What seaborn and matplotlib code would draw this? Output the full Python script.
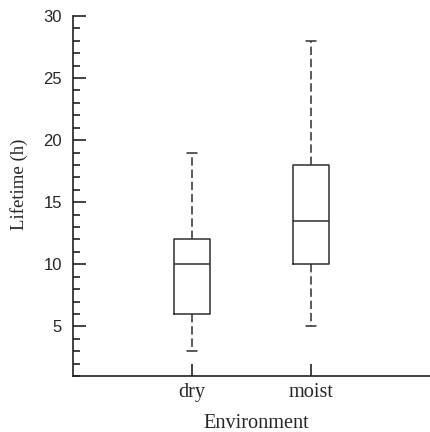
import matplotlib
matplotlib.use("Agg")
import matplotlib.pyplot as plt
import seaborn as sns
import pandas as pd
from matplotlib.ticker import MultipleLocator

# five-number summaries (low whisker, Q1, median, Q3, high whisker)
environments = ["dry", "moist"]
dry_values = [3, 6, 10, 12, 19]
moist_values = [5, 10, 13.5, 18, 28]

df = pd.DataFrame({
    "Environment": ["dry"] * len(dry_values) + ["moist"] * len(moist_values),
    "Lifetime": dry_values + moist_values,
})

sns.set_style("ticks")
plt.rcParams["font.family"] = ["Liberation Serif", "DejaVu Serif"]

fig = plt.figure(figsize=(4.3, 4.32), dpi=100)
ax = fig.add_axes([73 / 430, 1 - 376 / 432, 357 / 430, 360 / 432])

line = "#2e2e2e"
sns.boxplot(
    data=df, x="Environment", y="Lifetime", order=environments,
    width=0.3, fill=False, color=line, linewidth=1.1,
    whis=1.5, showfliers=False, ax=ax,
    whiskerprops={"linestyle": (0, (5.5, 2.5)), "color": line},
    capprops={"color": line},
    medianprops={"color": line},
    boxprops={"color": line},
    capwidths=0.09,
)

ax.set_xlim(-1, 2)
ax.set_ylim(1, 30)
ax.yaxis.set_major_locator(MultipleLocator(5))
ax.yaxis.set_minor_locator(MultipleLocator(1))
ax.set_yticks([5, 10, 15, 20, 25, 30])

for s in ["top", "right"]:
    ax.spines[s].set_visible(False)
for s in ["left", "bottom"]:
    ax.spines[s].set_color("#222222")
    ax.spines[s].set_linewidth(1.2)

ax.tick_params(axis="both", which="major", direction="in", length=9,
               width=1.2, color="#222222")
ax.tick_params(axis="y", which="minor", direction="in", length=5,
               width=1.2, color="#222222")
ax.tick_params(axis="y", which="major", pad=8)
ax.tick_params(axis="x", which="major", pad=5)

for lab in ax.get_yticklabels():
    lab.set_family(["Liberation Sans", "DejaVu Sans"])
    lab.set_fontsize(12)
for lab in ax.get_xticklabels():
    lab.set_fontsize(14.6)

ax.set_xlabel("Environment", fontsize=14.6, labelpad=9)
ax.set_ylabel("Lifetime (h)", fontsize=13.5, labelpad=11)
ax.xaxis.label.set_x(0.514)
ax.yaxis.label.set_y(0.533)

fig.savefig("out.png", dpi=100)
plt.close(fig)
